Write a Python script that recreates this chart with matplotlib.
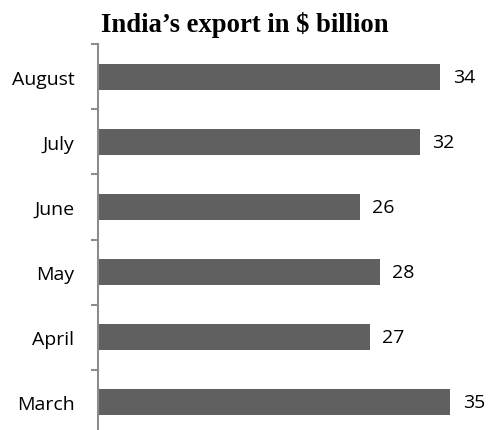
import matplotlib
matplotlib.use("Agg")
import matplotlib.pyplot as plt
import numpy as np

months = ["March", "April", "May", "June", "July", "August"]
exports = [35, 27, 28, 26, 32, 34]
title = "India\u2019s export in $ billion"

W, H = 490, 431
fig = plt.figure(figsize=(W / 100, H / 100), dpi=100)
x0, x1 = 98, 98 + 10.06 * 39
top, bot = 45, 436
ax = fig.add_axes([x0 / W, 1 - bot / H, (x1 - x0) / W, (bot - top) / H])

y = np.arange(len(months))
ax.barh(y, exports, height=0.4, color="#606060", zorder=2)
for yi, v in zip(y, exports):
    ax.text(v + 1.25, yi, str(v), va="center", ha="left", fontsize=14,
            family="Open Sans", color="#000000")

ax.set_xlim(0, 39)
ax.set_ylim(-0.5, len(months) - 0.5)
ax.set_yticks(y)
ax.set_yticklabels(months, family="Open Sans", fontsize=14)
ax.tick_params(axis="y", which="major", length=0, pad=17)
ax.set_yticks(np.arange(-0.5, len(months), 1), minor=True)
ax.tick_params(axis="y", which="minor", length=5, width=1.5, color="#8c8c8c", direction="out")
ax.set_xticks([])
for s in ["top", "right", "bottom"]:
    ax.spines[s].set_visible(False)
ax.spines["left"].set_color("#8c8c8c")
ax.spines["left"].set_linewidth(1.5)
ax.set_facecolor("none")

fig.text(0.5, 1 - 32 / H, title, ha="center", va="baseline",
         family="Liberation Serif", fontweight="bold", fontsize=19.2)

fig.savefig("out.png", dpi=100)
